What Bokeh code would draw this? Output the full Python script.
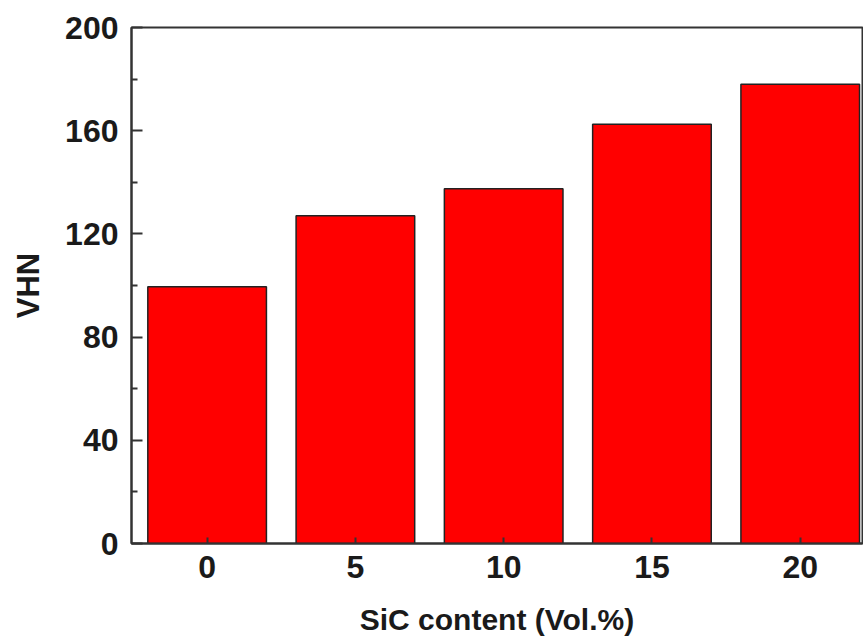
from bokeh.plotting import figure
from bokeh.models import FixedTicker, Range1d
from bokeh.embed import file_html
from bokeh.resources import INLINE

sic_content = [0, 5, 10, 15, 20]
vhn_values = [99.5, 127, 137.5, 162.5, 178]
x_ticks = [0, 5, 10, 15, 20]
y_ticks = [0, 40, 80, 120, 160, 200]
y_minor = [20, 60, 100, 140, 180]

FONT = "Liberation Sans"
TXT = "#1a1a1a"
AX = "#333333"

p = figure(width=863, height=639, output_backend="svg", toolbar_location=None,
           x_range=Range1d(-2.55, 22.1), y_range=Range1d(0, 200),
           min_border_left=131, min_border_top=27, min_border_right=1, min_border_bottom=96)

p.vbar(x=sic_content, top=vhn_values, width=4, bottom=0,
       fill_color="#ff0000", line_color="#222222", line_width=1.5)

p.xgrid.visible = False
p.ygrid.visible = False
p.outline_line_color = AX
p.outline_line_width = 2
p.background_fill_color = "white"
p.border_fill_color = "white"

xa = p.xaxis[0]
xa.ticker = FixedTicker(ticks=x_ticks)
xa.major_tick_in = 6
xa.major_tick_out = 0
xa.minor_tick_in = 0
xa.minor_tick_out = 0
xa.axis_line_color = AX
xa.axis_line_width = 2
xa.major_tick_line_color = AX
xa.major_tick_line_width = 2
xa.major_label_text_font = FONT
xa.major_label_text_font_style = "bold"
xa.major_label_text_font_size = "32px"
xa.major_label_text_color = TXT
xa.major_label_standoff = 12
xa.axis_label = "SiC content (Vol.%)"
xa.axis_label_text_font = FONT
xa.axis_label_text_font_style = "bold"
xa.axis_label_text_font_size = "30px"
xa.axis_label_text_color = TXT
xa.axis_label_standoff = 22

ya = p.yaxis[0]
ya.ticker = FixedTicker(ticks=y_ticks, minor_ticks=y_minor)
ya.major_tick_in = 11
ya.major_tick_out = 0
ya.minor_tick_in = 6
ya.minor_tick_out = 0
ya.axis_line_color = AX
ya.axis_line_width = 2
ya.major_tick_line_color = AX
ya.major_tick_line_width = 2
ya.minor_tick_line_color = AX
ya.minor_tick_line_width = 2
ya.major_label_text_font = FONT
ya.major_label_text_font_style = "bold"
ya.major_label_text_font_size = "32px"
ya.major_label_text_color = TXT
ya.major_label_standoff = 13
ya.axis_label = "VHN"
ya.axis_label_text_font = FONT
ya.axis_label_text_font_style = "bold"
ya.axis_label_text_font_size = "31px"
ya.axis_label_text_color = TXT
ya.axis_label_standoff = 16

open("out.html", "w").write(file_html(p, INLINE))
